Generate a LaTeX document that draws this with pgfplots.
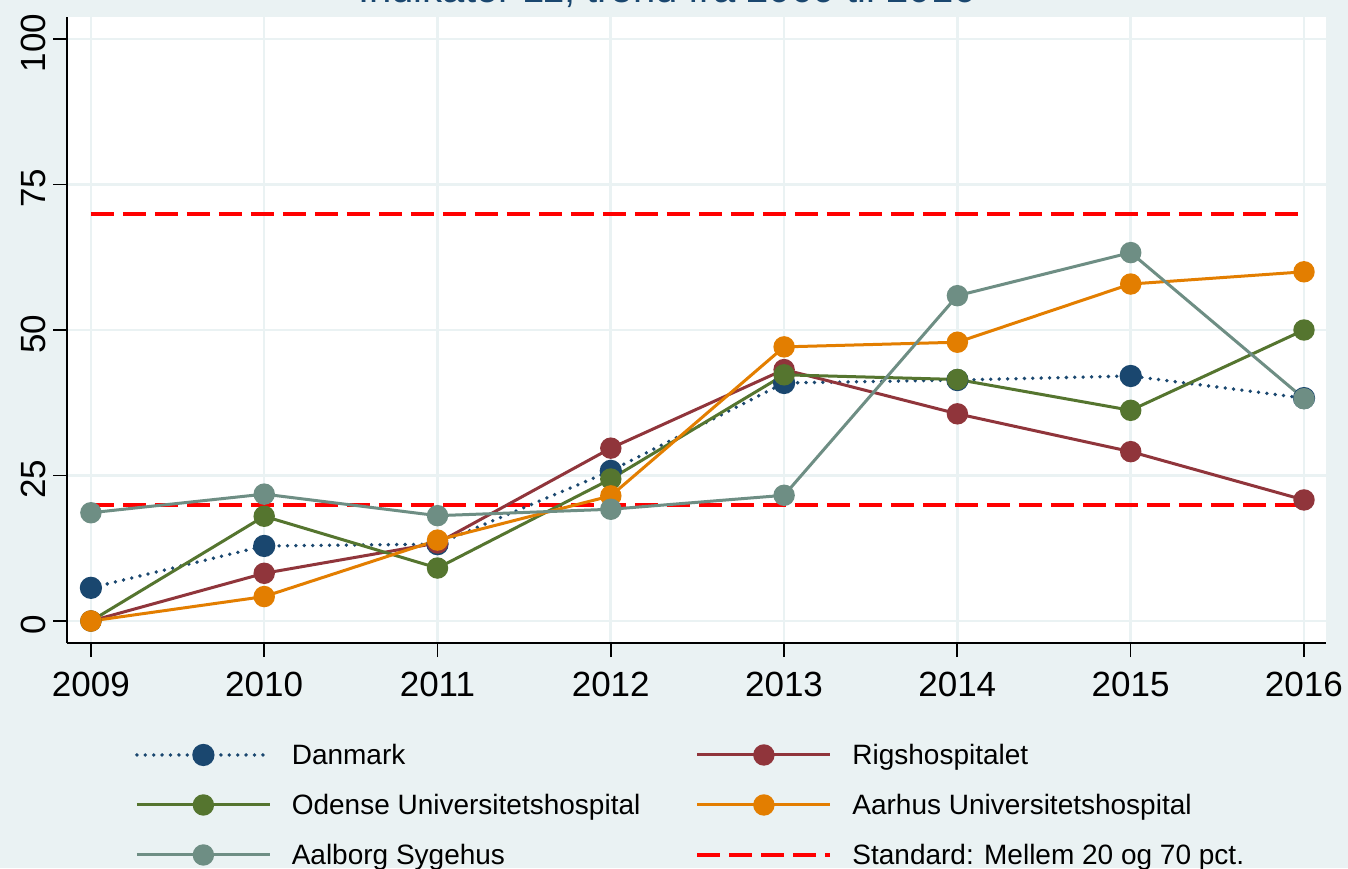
\documentclass[border=0pt]{standalone}
\usepackage{fontspec}
\setmainfont{Liberation Sans}
\usepackage{pgfplots}
\pgfplotsset{compat=1.18}
\definecolor{bg}{RGB}{234,242,243}
\definecolor{snavy}{RGB}{26,71,111}
\definecolor{smaroon}{RGB}{144,53,59}
\definecolor{sgreen}{RGB}{85,117,47}
\definecolor{sorange}{RGB}{227,126,0}
\definecolor{steal}{RGB}{110,142,132}
\begin{document}
\begin{tikzpicture}
\fill[bg] (-33.5pt,-112.5pt) rectangle (640.5pt,321.5pt);
\begin{axis}[
  at={(0pt,0pt)}, anchor=south west,
  scale only axis, width=629.5pt, height=313pt,
  xmin=2008.862, xmax=2016.127, ymin=-3.78, ymax=103.78,
  axis background/.style={fill=white},
  axis x line*=bottom, axis y line*=left,
  axis line style={black, line width=0.8pt, -},
  xtick={2009,...,2016}, ytick={0,25,50,75,100},
  grid=major, grid style={line width=1.3pt, color=bg},
  tick align=outside, major tick length=7pt,
  tick style={black, line width=0.8pt},
  /pgf/number format/assume math mode=true,
  xticklabel style={/pgf/number format/1000 sep=, font=\fontsize{17.5}{21}\selectfont, yshift=-4pt},
  yticklabel style={rotate=90, anchor=south, font=\fontsize{17.5}{21}\selectfont, xshift=-2pt},
  legend columns=2,
  legend cell align=left,
  legend style={at={(0.054,-0.1613)}, anchor=north west, draw=none, fill=none,
    inner sep=0pt, outer sep=0pt, row sep=14pt,
    font=\fontsize{14}{17}\selectfont,
    nodes={inner sep=0pt, text height=10.5pt, text depth=0.5pt},
    /tikz/every odd column/.append style={column sep=10pt},
    /tikz/every even column/.append style={column sep=27.5pt}},
  legend image code/.code={\draw[#1, mark repeat=2, mark phase=2] plot coordinates {(0pt,0pt) (33.25pt,0pt) (66.5pt,0pt)};},
]
\addplot[forget plot, red, line width=2pt, dash pattern=on 11.5pt off 4.5pt] coordinates {(2009,20) (2016,20)};
\addplot[forget plot, red, line width=2pt, dash pattern=on 11.5pt off 4.5pt] coordinates {(2009,70) (2016,70)};
\addplot[snavy, line width=1.9pt, dash pattern=on 0pt off 4.2pt, line cap=round, mark=*, mark size=4.6pt, mark options={solid, fill=snavy, draw=snavy}]
  coordinates {(2009,5.7)(2010,12.9)(2011,13.2)(2012,25.8)(2013,40.9)(2014,41.4)(2015,42.1)(2016,38.3)};
\addlegendentry{Danmark}
\addplot[smaroon, line width=1.5pt, mark=*, mark size=4.6pt, mark options={solid, fill=smaroon, draw=smaroon}]
  coordinates {(2009,0)(2010,8.2)(2011,13.4)(2012,29.7)(2013,43.2)(2014,35.6)(2015,29.1)(2016,20.8)};
\addlegendentry{Rigshospitalet}
\addplot[sgreen, line width=1.5pt, mark=*, mark size=4.6pt, mark options={solid, fill=sgreen, draw=sgreen}]
  coordinates {(2009,0)(2010,18.0)(2011,9.1)(2012,24.4)(2013,42.3)(2014,41.5)(2015,36.2)(2016,50)};
\addlegendentry{Odense Universitetshospital}
\addplot[sorange, line width=1.5pt, mark=*, mark size=4.6pt, mark options={solid, fill=sorange, draw=sorange}]
  coordinates {(2009,0)(2010,4.2)(2011,13.9)(2012,21.5)(2013,47.1)(2014,47.9)(2015,57.9)(2016,60)};
\addlegendentry{Aarhus Universitetshospital}
\addplot[steal, line width=1.5pt, mark=*, mark size=4.6pt, mark options={solid, fill=steal, draw=steal}]
  coordinates {(2009,18.6)(2010,21.8)(2011,18.1)(2012,19.2)(2013,21.6)(2014,55.9)(2015,63.3)(2016,38.2)};
\addlegendentry{Aalborg Sygehus}
\addlegendimage{red, line width=2pt, dash pattern=on 11.5pt off 4.5pt}
\addlegendentry{Standard: Mellem 20 og 70 pct.}
\end{axis}
\node[anchor=base, text=snavy, font=\fontsize{20}{24}\selectfont] at (300pt,320pt) {Indikator 11, trend fra 2009 til 2016};
\pgfresetboundingbox
\path[use as bounding box] (-33.5pt,-112.5pt) rectangle (640.5pt,321.5pt);
\end{tikzpicture}
\end{document}
